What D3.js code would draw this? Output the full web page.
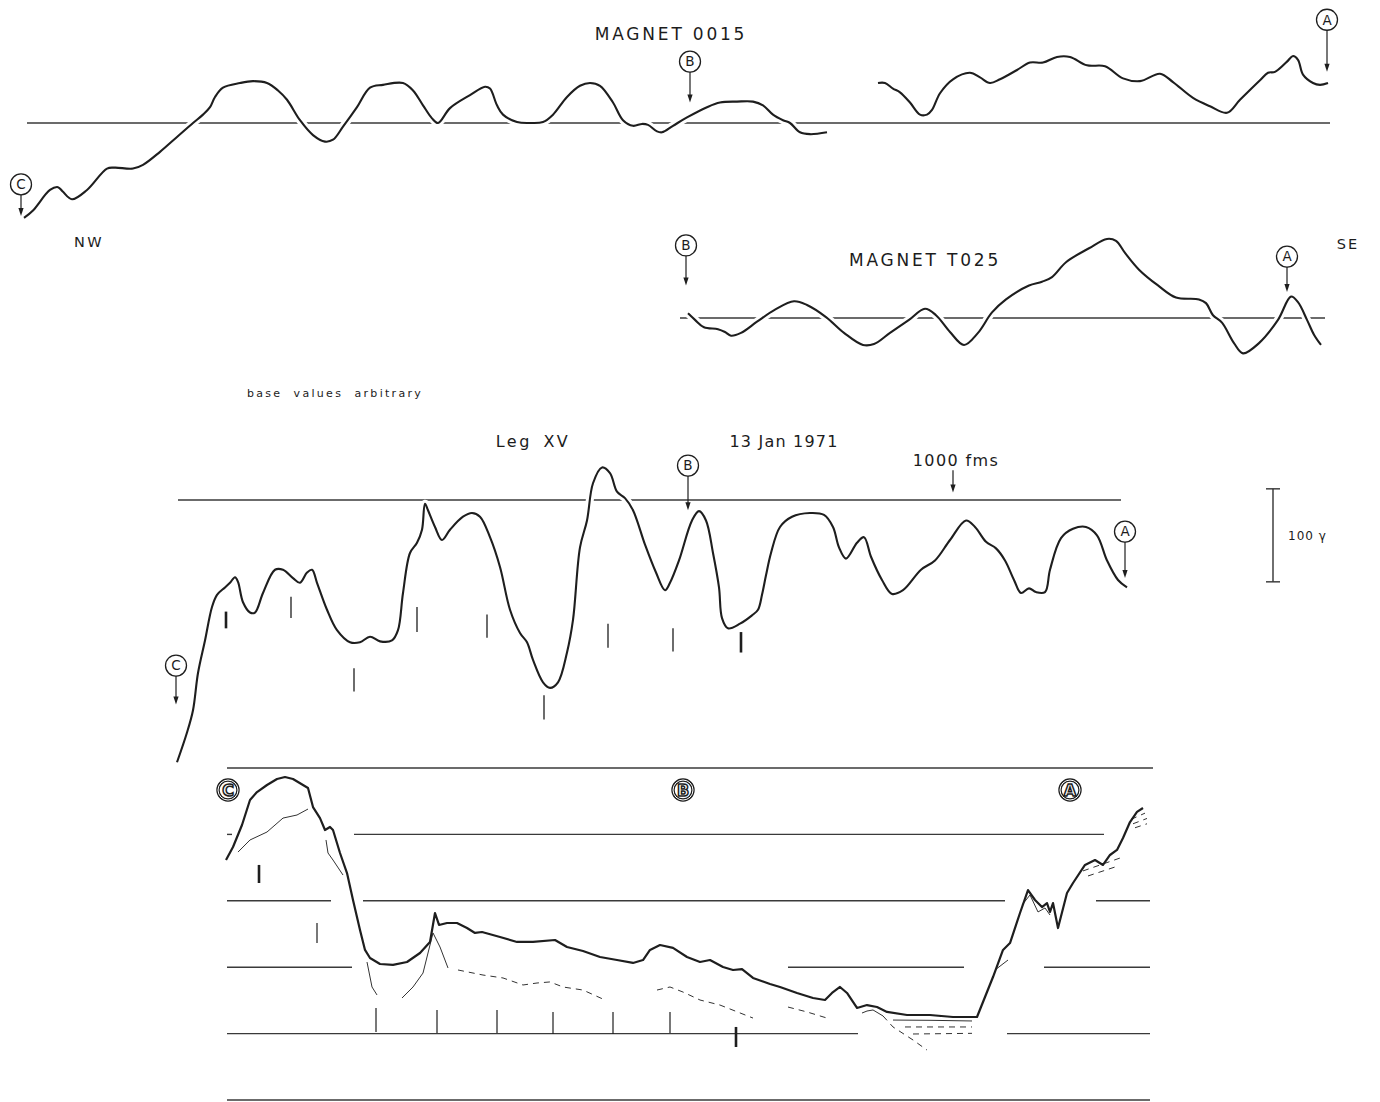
<!DOCTYPE html>
<html><head><meta charset="utf-8">
<script src="https://cdn.jsdelivr.net/npm/d3@7"></script>
<style>
html,body{margin:0;padding:0;background:#fff;}
svg{display:block;}
text{font-family:"DejaVu Sans",sans-serif;fill:#1c1c1c;}
</style></head><body>
<svg id="chart" width="1380" height="1102"></svg>
<script>
// ---- Magnetic anomaly profiles: [distance along track (km), anomaly (gammas)] ----
const mag0015West = [[2,-102],[6.5,-94],[15,-72],[19,-69],[21.5,-74],[26,-82],[33.5,-72],[43.5,-49],[47.5,-48],[56.5,-49],[61.5,-45],[70,-31],[78.5,-15],[86.5,0],[91.5,9],[95,17],[97.5,28],[101.5,38],[110,43],[116.5,45],[123.5,43],[129,35],[133.5,25],[140,3],[146.5,-13],[152.5,-20],[156.5,-18],[161.5,-4],[168.5,17],[175,38],[181.5,41],[191.5,43],[196.5,35],[201.5,19],[206,5],[209,0],[215,16],[225,30],[232.5,39],[235,37],[238.5,19],[241.5,9],[248.5,1],[255,0],[261.5,1],[266.5,9],[273.5,28],[280,40],[285,43],[290,40],[296.5,22],[301.5,3],[306.5,-3],[311,-1],[314,-2],[318.5,-9],[321,-10],[326.5,-3],[333.5,6],[343.5,17],[350,22],[358.5,23],[366.5,23],[371.5,19],[376.5,9],[381.5,3],[385,0],[390,-10],[395,-12],[403.5,-10]];
const mag0015East = [[429,43],[432.5,43],[436.5,37],[440,33],[445,22],[450,9],[453.5,9],[456,14],[460,32],[466.5,47],[475,54],[480,49],[485,43],[490,47],[498.5,57],[505,65],[511.5,65],[518.5,71],[525,71],[533.5,62],[542.5,61],[551.5,48],[560,45],[570,53],[576.5,44],[586.5,27],[595,18],[603.5,11],[610,25],[620,46],[624,54],[627.5,55],[633.5,66],[636.5,72],[639,68],[641.5,52],[646.5,43],[650,41],[654,43]];
const mag0015Base = [3.5, 655];

const magT025 = [[1,5],[4.5,-2],[9,-10],[16,-12],[19.5,-15],[22.5,-19],[27.5,-16],[35.5,-4],[44.5,9],[54,18],[60.5,14],[70,1],[79,-16],[88.5,-29],[94,-28],[102,-16],[111.5,-2],[119.5,10],[125,3],[132,-15],[139,-29],[146,-16],[153,6],[160,20],[171.5,35],[178,39],[183,44],[190,60],[201.5,75],[210.5,85],[215,83],[219.5,70],[226.5,52],[236,35],[245,22],[256.5,20],[260,16],[263.5,3],[268,-5],[274,-27],[278.5,-38],[286.5,-27],[296,-2],[302.5,23],[306,17],[310.5,-2],[314,-18],[317.5,-29]];
const magT025Base = [-3, 319.5];

const legXV = [[0,-282],[5,-250],[8,-226],[10.5,-186],[14,-151],[17.5,-115],[20,-102],[24,-94],[26.5,-89],[29,-83],[30.5,-88],[33,-110],[36.5,-121],[39,-121],[43,-100],[49,-75],[53,-75],[58,-84],[61.5,-89],[65,-78],[67.5,-75],[70,-89],[75,-118],[80,-140],[86.5,-153],[91.5,-153],[96.5,-147],[101.5,-152],[107.5,-151],[110.5,-140],[113,-100],[116.5,-57],[120,-46],[122.5,-32],[124,-4],[125.5,-11],[129,-29],[132.5,-43],[136.5,-32],[143,-18],[147.5,-14],[151.5,-18],[156.5,-40],[161.5,-72],[166.5,-118],[171.5,-143],[175,-153],[178,-172],[183,-196],[186.5,-202],[190.5,-196],[195,-164],[198,-129],[201.5,-51],[205,-22],[208,18],[212.5,35],[216.5,29],[220,9],[224,2],[228,-11],[234,-48],[239.5,-78],[244,-97],[246.5,-89],[251,-65],[257.5,-22],[261,-12],[264.5,-22],[268,-57],[271,-94],[272.5,-127],[275.5,-138],[281.5,-133],[287.5,-124],[290.5,-118],[292.5,-102],[294.5,-81],[297,-57],[301.5,-29],[307.5,-18],[316.5,-14],[323.5,-16],[328,-29],[331,-51],[334.5,-63],[340,-46],[343.5,-40],[347,-61],[352.5,-86],[357.5,-101],[363,-97],[372,-75],[379,-65],[386.5,-43],[394.5,-22],[399,-29],[404.5,-45],[409.5,-52],[414,-65],[418.5,-86],[422,-100],[426,-95],[429.5,-99],[434,-99],[436.5,-75],[442,-41],[448,-31],[454.5,-29],[460,-38],[465,-65],[470.5,-86],[475,-94]];
const legXVBase = [0.5, 472];
// time marks below the Leg XV profile: [distance, upper γ, lower γ, heavy]
const legXVTicks = [[24.5,-120,-138,1],[57,-104,-127,0],[88.5,-181,-206,0],[120,-115,-142,0],[155,-123,-148,0],[183.5,-210,-236,0],[215.5,-133,-159,0],[248,-138,-163,0],[282,-142,-164,1]];

// ---- Bathymetry: [distance (km), depth (fathoms)] ----
const bathyMain = [[-0.5,693],[3,595],[7.5,429],[11.5,241],[15,181],[20,128],[25,83],[29,68],[33,83],[38,128],[40.5,151],[43,294],[46.5,377],[49,467],[51.5,444],[53,467],[56.5,640],[60,791],[63,994],[66.5,1220],[69,1370],[71.5,1431],[76.5,1476],[83,1483],[90,1461],[96.5,1393],[101.5,1310],[104,1092],[106,1182],[110,1167],[115,1167],[120,1205],[124,1242],[127.5,1235],[136.5,1273],[145,1310],[153,1310],[164,1295],[170,1348],[178,1378],[186.5,1423],[195,1446],[203,1468],[208,1446],[211.5,1370],[216.5,1333],[223,1355],[230,1423],[236.5,1461],[241.5,1446],[248,1498],[253,1521],[257.5,1514],[263,1581],[271.5,1626],[276.5,1649],[285,1694],[293,1732],[299,1747],[302.5,1694],[306.5,1649],[310,1694],[315,1807],[320,1785],[325,1800],[330,1837],[340,1860],[351.5,1860],[363,1875],[375,1875],[383,1574],[388,1370],[391.5,1318],[396.5,1092],[400.5,919],[404,994],[407.5,1047],[410,1017],[411.5,1084],[413,1017],[415.5,1205],[420,941],[423,866],[429,730],[434,693],[438,730],[441.5,655],[445,617],[448,527],[451.5,407],[455,331],[458,301]];
// secondary reflectors, solid
const bathyThin = [
  [[5.5,633],[11.5,542],[20,482],[28,377],[35,354],[40.5,309]],
  [[49.5,542],[50.5,640],[53,693],[58,806]],
  [[70,1461],[72.5,1649],[75,1709]],
  [[87.5,1732],[93,1649],[98,1544],[103,1242],[106.5,1348],[110.5,1506]],
  [[317.5,1845],[320,1830],[323,1822],[328,1867]],
  [[333,1898],[352,1900],[372.5,1905]],
  [[384,1521],[390.5,1446]],
  [[397.5,1032],[401.5,956],[405.5,1084],[409,1054],[411.5,1107]]
];
// secondary reflectors, dashed
const bathyDashed = [
  [[115.5,1521],[128,1559],[138,1581],[148,1634],[155,1619],[161.5,1611],[168,1649],[178,1672],[189,1747]],
  [[215,1672],[221.5,1649],[228,1687],[236.5,1747],[246.5,1785],[263,1883]],
  [[280.5,1800],[290,1837],[300,1883]],
  [[328,1867],[333,1950],[343,2048],[350,2124]],
  [[339,1950],[372.5,1950]],
  [[343,2003],[372.5,1998]],
  [[428,775],[446.5,678]],
  [[430.5,813],[445.5,738]],
  [[452,387],[459,340]],
  [[453,420],[460,380]],
  [[454,450],[460,420]]
];
// depth contour lines and their drawn spans (km)
const depthGrid = [
  {depth:0,    spans:[[0,463]]},
  {depth:500,  spans:[[0,2.5],[63.5,438.5]]},
  {depth:1000, spans:[[0,52],[68,389],[434.5,461.5]]},
  {depth:1500, spans:[[0,62.5],[280.5,368.5],[408.5,461.5]]},
  {depth:2000, spans:[[0,315.5],[390,461.5]]},
  {depth:2500, spans:[[0,461.5]]}
];
// time marks in the bathymetry section: [distance, top fm, bottom fm, heavy]
const bathyTicks = [[16,730,866,1],[45,1167,1318,0],[74.5,1807,1988,0],[105,1822,1995,0],[135,1822,1995,0],[163,1837,2003,0],[193,1837,2003,0],[221.5,1837,1995,0],[254.5,1950,2101,1]];

// station markers: [label, distance, ring value, arrow tip value]
const marks0015 = [["C",0.5,-66,-100],["B",335,66,22],["A",653.5,111,55]];
const marksT025 = [["B",0,78,35],["A",300.5,66,28]];
const marksLegXV = [["C",-0.5,-178,-220],["B",255.5,37,-11],["A",474,-34,-84]];
const marksBathy = [["C",0.5,166],["B",228,166],["A",421.5,166]];
const depthArrow = [388, 32, 8];   // "1000 fms" pointer on Leg XV
const scaleBar = [548, 12, -88];   // 100 γ bar

const svg = d3.select("#chart");
const INK = "#1e1e1e";

// panel scales (distance in km, anomaly in gammas; 100 γ spans 93 px)
function panel(x0, base){
  return {
    x: d3.scaleLinear().domain([0,100]).range([x0, x0+200]),
    y: d3.scaleLinear().domain([0,100]).range([base, base-93])
  };
}
const p0015 = panel(20, 123);
const pT025 = panel(686, 318);
const pLeg = panel(177, 500);
const bx = d3.scaleLinear().domain([0,100]).range([227,427]);
const by = d3.scaleLinear().domain([0,2500]).range([768,1100]);

function baseLine(p, span){
  svg.append("line").attr("x1",p.x(span[0])).attr("x2",p.x(span[1]))
    .attr("y1",p.y(0)).attr("y2",p.y(0))
    .attr("stroke","#3a3a3a").attr("stroke-width",1.4);
}
function profile(p, data){
  const line = d3.line().x(d=>p.x(d[0])).y(d=>p.y(d[1])).curve(d3.curveCatmullRom.alpha(0.5));
  svg.append("path").attr("d",line(data)).attr("fill","none")
    .attr("stroke","#fff").attr("stroke-width",8).attr("stroke-linecap","round");
  svg.append("path").attr("d",line(data)).attr("fill","none")
    .attr("stroke",INK).attr("stroke-width",2.1).attr("stroke-linejoin","round");
}
function arrow(x, y1, y2){
  svg.append("line").attr("x1",x).attr("x2",x).attr("y1",y1).attr("y2",y2-5)
    .attr("stroke",INK).attr("stroke-width",1.2);
  svg.append("path").attr("d",`M${x-2.6},${y2-8}L${x+2.6},${y2-8}L${x},${y2}Z`).attr("fill",INK);
}
function marker(p, m){
  const cx = p.x(m[1]), cy = p.y(m[2]);
  svg.append("circle").attr("cx",cx).attr("cy",cy).attr("r",10.5)
    .attr("fill","#fff").attr("stroke",INK).attr("stroke-width",1.3);
  svg.append("text").attr("x",cx).attr("y",cy+4.8).attr("text-anchor","middle")
    .attr("font-size",13.5).text(m[0]);
  arrow(cx, cy+10.5, p.y(m[3]));
}
function label(x, y, size, ls, txt, ws){
  const t = svg.append("text").attr("x",x).attr("y",y).attr("text-anchor","middle")
    .attr("font-size",size).attr("letter-spacing",ls).text(txt);
  if (ws) t.attr("word-spacing",ws);
  return t;
}

// ---- MAGNET 0015 ----
baseLine(p0015, mag0015Base);
profile(p0015, mag0015West);
profile(p0015, mag0015East);
marks0015.forEach(m=>marker(p0015,m));
label(671, 40, 17, 2.8, "MAGNET  0015");
label(89, 247, 14.5, 2.5, "NW");

// ---- MAGNET T025 ----
baseLine(pT025, magT025Base);
profile(pT025, magT025);
marksT025.forEach(m=>marker(pT025,m));
label(925, 266, 17, 2.8, "MAGNET  T025");
label(1348, 249, 14.5, 2, "SE");

label(335, 397, 11, 2.3, "base values arbitrary", 5.5);

// ---- Leg XV ----
baseLine(pLeg, legXVBase);
profile(pLeg, legXV);
legXVTicks.forEach(t=>{
  svg.append("line").attr("x1",pLeg.x(t[0])).attr("x2",pLeg.x(t[0]))
    .attr("y1",pLeg.y(t[1])).attr("y2",pLeg.y(t[2]))
    .attr("stroke",INK).attr("stroke-width",t[3]?2.6:1.3);
});
marksLegXV.forEach(m=>marker(pLeg,m));
arrow(pLeg.x(depthArrow[0]), pLeg.y(depthArrow[1]), pLeg.y(depthArrow[2]));
label(533, 447, 16, 2.5, "Leg XV", 4);
label(784, 447, 16, 1.2, "13 Jan 1971");
label(956, 466, 16, 1.4, "1000 fms");

// 100 γ scale bar
{
  const sx = pLeg.x(scaleBar[0]), sy1 = pLeg.y(scaleBar[1]), sy2 = pLeg.y(scaleBar[2]);
  svg.append("line").attr("x1",sx).attr("x2",sx).attr("y1",sy1).attr("y2",sy2)
    .attr("stroke","#333").attr("stroke-width",1.4);
  [sy1,sy2].forEach(yy=>svg.append("line").attr("x1",sx-7).attr("x2",sx+7)
    .attr("y1",yy).attr("y2",yy).attr("stroke","#333").attr("stroke-width",1.4));
  svg.append("text").attr("x",sx+15).attr("y",(sy1+sy2)/2+5)
    .attr("font-size",12).attr("letter-spacing",1).text("100 γ");
}

// ---- Bathymetry section ----
depthGrid.forEach(g=>g.spans.forEach(s=>{
  svg.append("line").attr("x1",bx(s[0])).attr("x2",bx(s[1]))
    .attr("y1",by(g.depth)).attr("y2",by(g.depth))
    .attr("stroke","#3a3a3a").attr("stroke-width",1.4);
}));
const bline = d3.line().x(d=>bx(d[0])).y(d=>by(d[1]));
bathyThin.forEach(seg=>svg.append("path").attr("d",bline(seg)).attr("fill","none")
  .attr("stroke","#333").attr("stroke-width",1));
bathyDashed.forEach(seg=>svg.append("path").attr("d",bline(seg)).attr("fill","none")
  .attr("stroke","#333").attr("stroke-width",1).attr("stroke-dasharray","6,5"));
svg.append("path").attr("d",bline(bathyMain)).attr("fill","none")
  .attr("stroke",INK).attr("stroke-width",2.2).attr("stroke-linejoin","round");
bathyTicks.forEach(t=>{
  svg.append("line").attr("x1",bx(t[0])).attr("x2",bx(t[0]))
    .attr("y1",by(t[1])).attr("y2",by(t[2]))
    .attr("stroke",INK).attr("stroke-width",t[3]?2.6:1.2);
});
// section station labels: double-ringed, outlined letters
marksBathy.forEach(m=>{
  const cx = bx(m[1]), cy = by(m[2]);
  svg.append("circle").attr("cx",cx).attr("cy",cy).attr("r",10)
    .attr("fill","#fff").attr("stroke",INK).attr("stroke-width",3.4);
  svg.append("circle").attr("cx",cx).attr("cy",cy).attr("r",10)
    .attr("fill","none").attr("stroke","#fff").attr("stroke-width",1);
  svg.append("text").attr("x",cx).attr("y",cy+5.6).attr("text-anchor","middle")
    .attr("font-size",16).attr("font-weight","bold")
    .style("fill","#fff").attr("stroke",INK).attr("stroke-width",1.5).text(m[0]);
});
</script>
</body></html>
